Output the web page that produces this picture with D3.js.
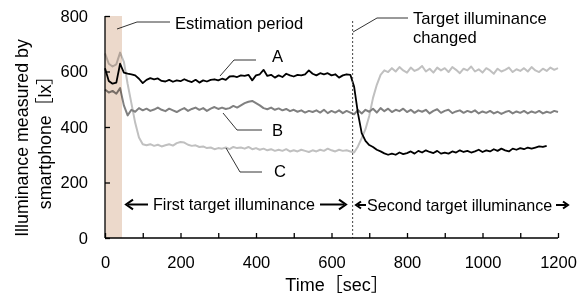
<!DOCTYPE html>
<html>
<head>
<meta charset="utf-8">
<script src="https://cdn.jsdelivr.net/npm/d3@7"></script>
<style>
  body { margin: 0; background: #fff; }
  svg text { font-family: "Liberation Sans", Arial, "Noto Sans CJK JP", sans-serif; fill: #000; }
</style>
</head>
<body>
<svg width="582" height="298"></svg>
<script>
const [WIDTH, HEIGHT] = [582, 298];
const MARGIN = { left: 105, right: 24, top: 16, bottom: 60 };

// sample times (sec), every 10 s
const times = d3.range(0, 1201, 10);

// A: black (ends at 1170 s)
const seriesA = [
  612, 566, 556, 560, 628, 596,
  592, 590, 586, 574, 558,
  570, 576, 572, 575, 566,
  564, 570, 563, 568, 565,
  572, 566, 562, 570, 560,
  568, 564, 570, 572, 568,
  574, 570, 582, 583, 580,
  586, 584, 588, 568, 586,
  590, 606, 584, 588, 578,
  586, 580, 592, 586, 582,
  588, 586, 590, 604, 592,
  586, 594, 590, 594, 586,
  590, 578, 586, 590, 588,
  545, 450, 378, 350, 335,
  328, 318, 312, 305, 300,
  304, 300, 308, 302, 306,
  312, 304, 314, 308, 316,
  310, 306, 314, 304, 308,
  304, 312, 308, 316, 310,
  314, 308, 312, 318, 310,
  316, 312, 320, 314, 322,
  316, 312, 322, 318, 324,
  320, 326, 322, 326, 330,
  328, 332
];

// B: dark gray
const seriesB = [
  535, 524, 530, 520, 540, 478,
  442, 462, 455, 468, 460,
  466, 458, 463, 470, 462,
  457, 466, 460, 454, 462,
  468, 458, 465, 470, 462,
  468, 458, 466, 472, 465,
  470, 465, 468, 476, 470,
  478, 486, 491, 494, 486,
  478, 468, 464, 470, 462,
  467, 460, 465, 457, 462,
  455, 460, 452, 458, 454,
  460, 452, 462, 450, 458,
  452, 460, 450, 458, 452,
  446, 461, 449, 462, 455,
  466, 452, 468, 457, 466,
  454, 462, 457, 466, 454,
  462, 451, 460, 455, 462,
  449, 458, 464, 451, 458,
  462, 450, 456, 460, 451,
  458, 453, 460, 449, 456,
  451, 458, 449, 455, 447,
  454, 458, 449, 456, 451,
  458, 449, 456, 451, 458,
  449, 455, 451, 458, 454
];

// C: light gray
const seriesC = [
  665, 628, 618, 626, 668, 635,
  555, 485, 415, 362, 338,
  334, 338, 332, 336, 330,
  334, 338, 333, 342, 346,
  344, 336, 332, 334, 328,
  330, 324, 326, 320, 324,
  322, 326, 320, 328, 324,
  326, 322, 328, 320, 324,
  318, 322, 316, 320, 314,
  318, 314, 320, 312, 316,
  312, 318, 314, 310, 316,
  312, 318, 314, 322, 316,
  312, 318, 314, 316, 312,
  308, 330, 360, 392, 440,
  505, 552, 588, 604, 598,
  612, 600, 616, 604, 596,
  614, 602, 608, 620, 600,
  610, 596, 614, 604, 612,
  598, 616, 606, 594, 610,
  604, 618, 600, 608, 596,
  612, 604, 592, 610, 600,
  606, 614, 598, 608, 602,
  612, 600, 616, 604, 598,
  610, 602, 614, 606, 612
];

const xTicks = [0, 200, 400, 600, 800, 1000, 1200];
const xMinorTicks = d3.range(0, 1201, 100);
const yTicks = [0, 200, 400, 600, 800];
const estimationEnd = 45;
const changeTime = 656;

const svg = d3.select("svg")
  .attr("viewBox", `0 0 ${WIDTH} ${HEIGHT}`);

const x = d3.scaleLinear().domain([0, 1200]).range([MARGIN.left, WIDTH - MARGIN.right]);
const y = d3.scaleLinear().domain([0, 800]).range([HEIGHT - MARGIN.bottom, MARGIN.top]);

const line = d3.line()
  .x((d) => x(d[0]))
  .y((d) => y(d[1]));

const toPoints = (vals) => vals.map((v, i) => [times[i], v]);

// Lines
svg.append("path")
  .attr("d", line(toPoints(seriesC)))
  .attr("fill", "none")
  .attr("stroke", "#c0c0c0")
  .attr("stroke-width", 2)
  .attr("stroke-linejoin", "round");

svg.append("path")
  .attr("d", line(toPoints(seriesB)))
  .attr("fill", "none")
  .attr("stroke", "#808080")
  .attr("stroke-width", 2)
  .attr("stroke-linejoin", "round");

svg.append("path")
  .attr("d", line(toPoints(seriesA)))
  .attr("fill", "none")
  .attr("stroke", "#000")
  .attr("stroke-width", 1.8)
  .attr("stroke-linejoin", "round");

// Estimation period band
svg.append("rect")
  .attr("x", x(0))
  .attr("y", y(800))
  .attr("width", x(estimationEnd) - x(0))
  .attr("height", y(0) - y(800))
  .attr("fill", "#ecd9cb")
  .style("mix-blend-mode", "multiply");

// Target change line
svg.append("line")
  .attr("x1", x(changeTime)).attr("x2", x(changeTime))
  .attr("y1", 21).attr("y2", y(0))
  .attr("stroke", "#444")
  .attr("stroke-width", 1)
  .attr("stroke-dasharray", "2,2");

// Axes
const xAxis = svg.append("g")
  .attr("transform", `translate(0,${y(0)})`)
  .call(d3.axisBottom(x).tickValues(xMinorTicks).tickSize(-5).tickPadding(18)
    .tickFormat((d) => (xTicks.includes(d) ? d : "")));
const yAxis = svg.append("g")
  .attr("transform", `translate(${x(0)},0)`)
  .call(d3.axisLeft(y).tickValues(yTicks).tickSize(-5).tickPadding(17));

[xAxis, yAxis].forEach((g) => {
  g.select(".domain").attr("stroke", "#000").attr("stroke-width", 1.3);
  g.selectAll(".tick line").attr("stroke", "#000").attr("stroke-width", 1.3);
  g.selectAll("text").attr("font-size", 16.5).attr("font-family", null);
});
xAxis.select(".domain").attr("d", `M${x(0)},0H${x(1200)}`);
yAxis.select(".domain").attr("d", `M0,${y(800)}V${y(0)}`);

// Axis titles
svg.append("text")
  .attr("x", 337).attr("y", 291)
  .attr("text-anchor", "middle")
  .attr("font-size", 18)
  .text("Time［sec］");

const yTitle = svg.append("text")
  .attr("transform", "translate(0,138) rotate(-90)")
  .attr("text-anchor", "middle")
  .attr("font-size", 17.8);
yTitle.append("tspan").attr("x", 0).attr("y", 28).text("Illuminance measured by");
yTitle.append("tspan").attr("x", 0).attr("y", 51).text("smartphone［lx］");

// Annotations
const leader = (pts) => svg.append("polyline")
  .attr("points", pts.map((p) => p.join(",")).join(" "))
  .attr("fill", "none")
  .attr("stroke", "#000")
  .attr("stroke-width", 0.8);

const label = (tx, ty, s, size = 16.6) => svg.append("text")
  .attr("x", tx).attr("y", ty)
  .attr("font-size", size)
  .text(s);

leader([[117, 29], [137, 22], [170, 22]]);
label(175, 29, "Estimation period");

leader([[220, 76], [234, 60], [256, 60]]);
label(272, 62, "A");

leader([[223, 113], [237, 130], [262, 130]]);
label(272, 136, "B");

leader([[226, 148], [240, 172], [262, 172]]);
label(274, 177, "C");

leader([[353, 32], [377, 18], [408, 18]]);
label(413, 24, "Target illuminance");
label(413, 43, "changed");

// Period arrows
const arrow = (x1, x2, yy, head) => {
  const dir = Math.sign(x2 - x1);
  svg.append("line")
    .attr("x1", x1).attr("x2", x2 - dir * 2)
    .attr("y1", yy).attr("y2", yy)
    .attr("stroke", "#000").attr("stroke-width", 2);
  svg.append("path")
    .attr("d", `M${x2 - dir * head},${yy - head * 0.7}L${x2},${yy}L${x2 - dir * head},${yy + head * 0.7}`)
    .attr("fill", "none").attr("stroke", "#000").attr("stroke-width", 2);
};

arrow(148, 126, 204.5, 7);
label(153, 210, "First target illuminance", 16.1);
arrow(320, 346, 204.5, 7);

arrow(366, 356, 205, 5);
label(367, 211, "Second target illuminance", 16.1);
arrow(556, 568, 205, 5);
</script>
</body>
</html>
